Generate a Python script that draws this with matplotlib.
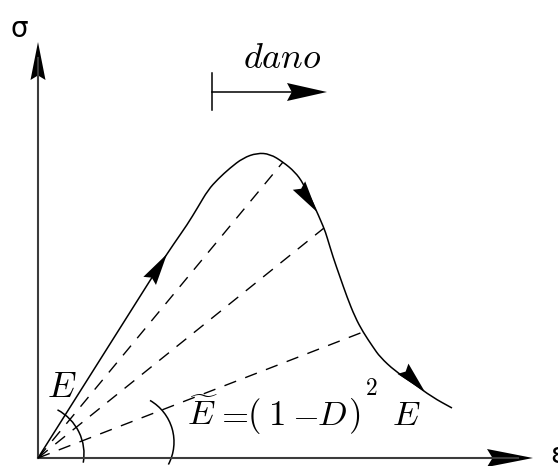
import numpy as np
import matplotlib
matplotlib.use("Agg")
import matplotlib.pyplot as plt
from matplotlib.patches import Arc, Polygon, PathPatch
from matplotlib.path import Path

plt.rcParams['mathtext.fontset'] = 'cm'

# stress-strain path (loading, softening), arbitrary units
eps = [0, 125, 137, 149, 160, 170, 180, 192, 205, 219, 232, 245, 257, 265,
       275, 286, 289, 295, 302, 309, 317, 325, 335, 342, 357, 375, 394, 414]
sig = [0, 198, 216, 233, 251, 268, 279, 290, 300, 305, 304, 296, 286, 275,
       255, 230, 221, 201, 181, 161, 141, 126, 111, 101, 87, 75, 61, 50]

# unloading lines go back to the origin from these curve points
unload_idx = [11, 15, 21]

# direction arrows on the path: (tail, tip)
path_arrows = [((109, 173), (129, 204)),
               ((264, 268), (279, 246)),
               ((369, 85), (387, 66))]

# secant modulus formula, split into pieces: (text, x)
formula = [(r'$\widetilde{E}$', 149), (r'$=$', 177), (r'$($', 209),
           (r'$1$', 230), (r'$-$', 254), (r'$D$', 279), (r'$)$', 310),
           (r'$E$', 354)]

fig = plt.figure(figsize=(5.58, 4.66), dpi=100)
ax = fig.add_axes([0, 0, 1, 1])
ax.set_xlim(-38, 520)
ax.set_ylim(-8, 458)
ax.axis('off')


def head(tail, tip, length, half, color='black'):
    tail = np.array(tail, float)
    tip = np.array(tip, float)
    u = (tip - tail) / np.hypot(*(tip - tail))
    n = np.array([-u[1], u[0]])
    base = tip - u * length
    pts = [tip, base + n * half, base + u * length * 0.12, base - n * half]
    ax.add_patch(Polygon(pts, closed=True, color=color, lw=0))


# axes
axis_col = '#3c3c3c'
ax.plot([0, 0], [0, 400], color=axis_col, lw=1.5)
ax.plot([0, 480], [0, 0], color=axis_col, lw=1.5)
head((0, 0), (0, 416), 38, 7.5)
head((0, 0), (495, 0), 46, 9)
ax.text(-27, 421, 'σ', fontsize=20, ha='left', va='baseline')
ax.text(512, -5, 'ε', fontsize=20, ha='left', va='baseline')

# curve: straight elastic part, then smoothed through the points
P = np.column_stack([eps, sig]).astype(float)
verts = [P[0], P[1]]
codes = [Path.MOVETO, Path.LINETO]
for i in range(2, len(P) - 1):
    verts += [P[i], (P[i] + P[i + 1]) / 2]
    codes += [Path.CURVE3, Path.CURVE3]
verts.append(P[-1])
codes.append(Path.LINETO)
ax.add_patch(PathPatch(Path(verts, codes), fill=False, color='black', lw=1.1))
for tail, tip in path_arrows:
    head(tail, tip, 32, 7.5)

# unloading / secant lines
for i in unload_idx:
    ax.plot([0, eps[i]], [0, sig[i]], color='black', lw=1.0,
            dashes=(9, 7))

# angle markers
ax.add_patch(Arc((-4, 4), 100, 100, theta1=-10, theta2=62, color='black', lw=1.1))
ax.add_patch(Arc((88, 16), 96, 96, theta1=-28, theta2=60, color='black', lw=1.1))
ax.text(9, 61, r'$E$', fontsize=26, ha='left', va='baseline')
for s, x in formula:
    ax.text(x, 33, s, fontsize=25, ha='left', va='baseline')
ax.text(327, 63, r'$2$', fontsize=17, ha='left', va='baseline')

# damage direction
ax.plot([174, 174], [348, 385], color='black', lw=1.1)
ax.plot([174, 260], [366, 366], color='black', lw=1.1)
head((174, 366), (289, 366), 40, 9)
ax.text(205, 390, r'$dano$', fontsize=26, ha='left', va='baseline')

fig.savefig('out.png', dpi=100)
